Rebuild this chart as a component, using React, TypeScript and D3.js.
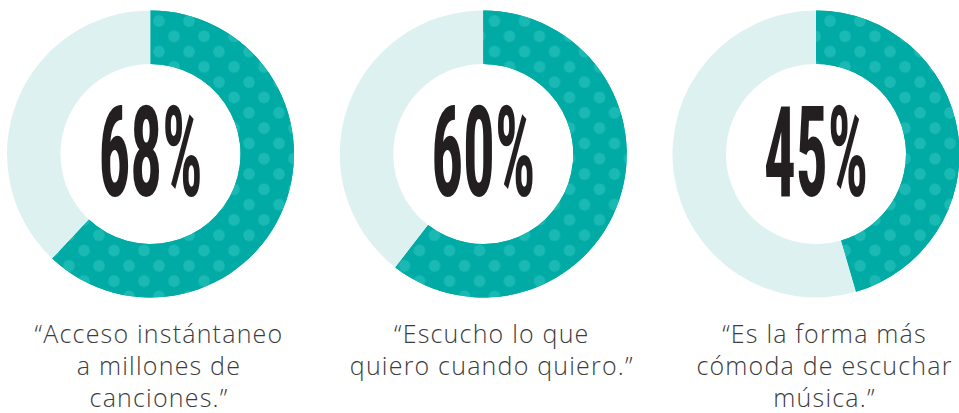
import React, { useLayoutEffect, useRef, useState } from "react";
import * as d3 from "d3";

// Data
const categories = ["acceso", "escucho", "comoda"];
const percentLabels = ["68%", "60%", "45%"];
// arc share as drawn in the picture (the first donut is drawn at ~62%)
const arcShares = [62, 60.5, 45.5];
const quotes: string[][] = [
  ["\u201CAcceso instántaneo", "a millones de", "canciones.\u201D"],
  ["\u201CEscucho lo que", "quiero cuando quiero.\u201D"],
  ["\u201CEs la forma más", "cómoda de escuchar", "música.\u201D"],
];

const W = 959;
const H = 413;
const TEAL = "#00aba5";
const DOT = "#1bb9b3";
const LIGHT = "#ddf1f0";
const INK = "#231f20";
const GRAY = "#3c3c3c";

function BigNumber({ cx, label }: { cx: number; label: string }) {
  const ref = useRef<SVGTextElement>(null);
  const [sx, setSx] = useState(0.4);
  const targetW = 104;
  useLayoutEffect(() => {
    if (ref.current) {
      const w = ref.current.getBBox().width;
      if (w > 0) setSx(targetW / w);
    }
  }, [label]);
  return (
    <g transform={`translate(${cx},195.5) scale(${sx},1)`}>
      <text
        ref={ref}
        x={0}
        y={0}
        textAnchor="middle"
        fontFamily="'Roboto Condensed','Liberation Sans Narrow','DejaVu Sans Condensed','DejaVu Sans',sans-serif"
        fontWeight={700}
        fontSize={126}
        fill={INK}
      >
        {label}
      </text>
    </g>
  );
}

export default function App() {
  const x = d3.scalePoint<string>().domain(categories).range([150.5, 816]);
  const cy = 154;
  const rOuter = 143.5;
  const rInner = 90;
  const arc = d3.arc<d3.PieArcDatum<number>>().innerRadius(rInner).outerRadius(rOuter);
  const pie = d3.pie<number>().sort(null).value((d) => d);

  return (
    <svg
      width={W}
      height={H}
      viewBox={`0 0 ${W} ${H}`}
      style={{ display: "block", position: "fixed", left: 0, top: 0, background: "#fff" }}
    >
      <defs>
        {categories.map((c) => {
          const cx = x(c)!;
          return (
            <pattern
              key={c}
              id={`dots-${c}`}
              patternUnits="userSpaceOnUse"
              width={30}
              height={30.6}
              x={cx + 8}
              y={20}
            >
              <rect width={30} height={30.6} fill={TEAL} />
              {[
                [0, 0],
                [30, 0],
                [0, 30.6],
                [30, 30.6],
                [15, 15.3],
              ].map(([px, py], i) => (
                <circle key={i} cx={px} cy={py} r={5.8} fill={DOT} />
              ))}
            </pattern>
          );
        })}
      </defs>
      {categories.map((c, i) => {
        const cx = x(c)!;
        const arcs = pie([arcShares[i], 100 - arcShares[i]]);
        return (
          <g key={c}>
            {arcs.map((a, j) => (
              <path
                key={j}
                d={arc(a) || ""}
                transform={`translate(${cx},${cy})`}
                fill={j === 0 ? TEAL : LIGHT}
              />
            ))}
            <path
              d={arc(arcs[0]) || ""}
              transform={`translate(${cx},${cy})`}
              fill={`url(#dots-${c})`}
            />
            <BigNumber cx={cx} label={percentLabels[i]} />
            <text
              textAnchor="middle"
              fontFamily="'Open Sans', Lato, Inter, sans-serif"
              fontWeight={300}
              fontSize={25}
              letterSpacing={1.2}
              fill={GRAY}
            >
              {quotes[i].map((line, k) => (
                <tspan key={k} x={cx + 8.5} y={343 + k * 32}>
                  {line}
                </tspan>
              ))}
            </text>
          </g>
        );
      })}
    </svg>
  );
}
